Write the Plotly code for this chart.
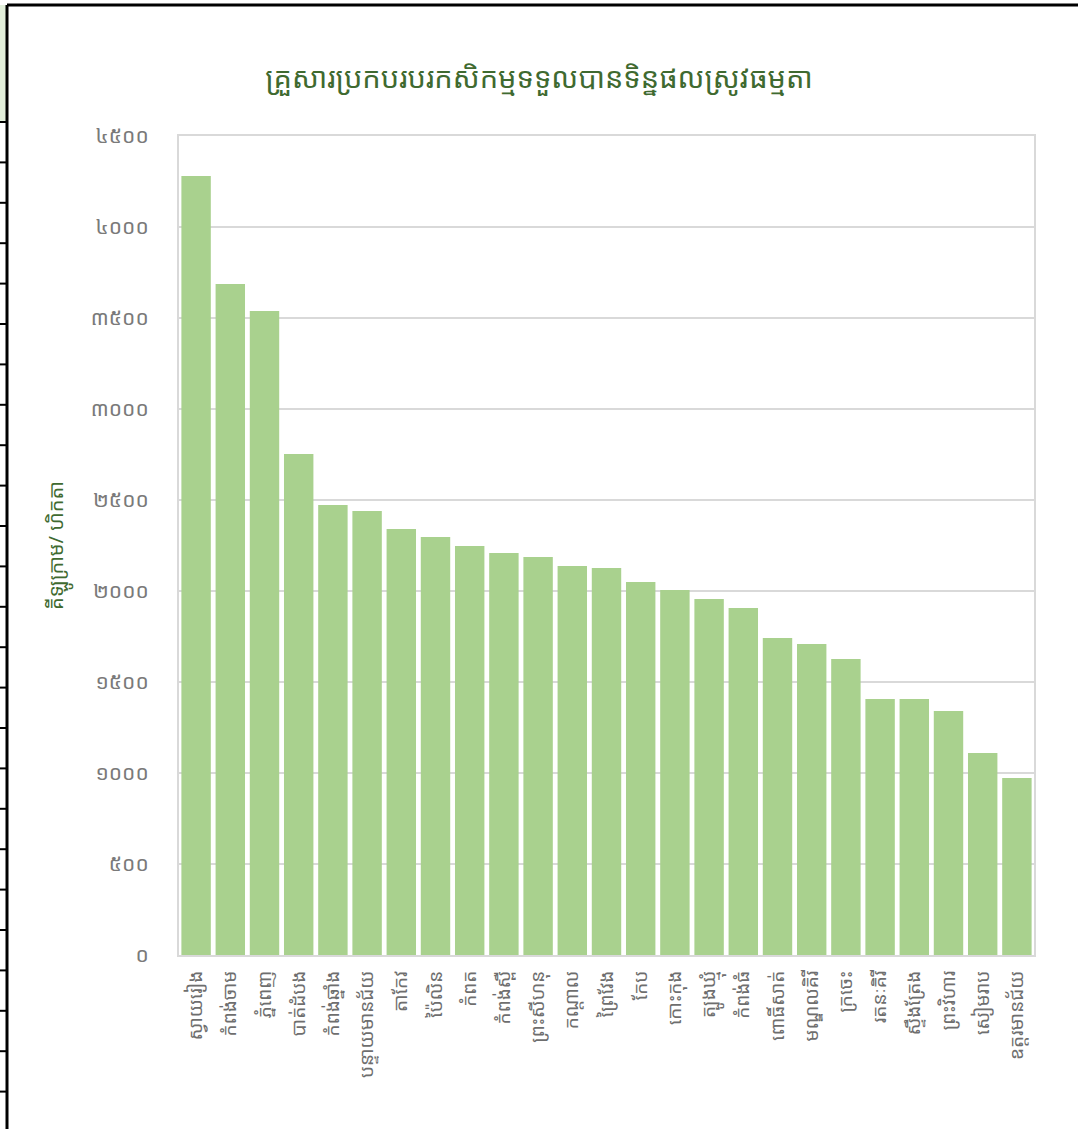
import plotly.graph_objects as go

provinces = ["ស្វាយរៀង", "កំពង់ចាម", "ភ្នំពេញ", "បាត់ដំបង", "កំពង់ឆ្នាំង", "បន្ទាយមានជ័យ",
             "តាកែវ", "ប៉ៃលិន", "កំពត", "កំពង់ស្ពឺ", "ព្រះសីហនុ", "កណ្តាល", "ព្រៃវែង",
             "កែប", "កោះកុង", "ត្បូងឃ្មុំ", "កំពង់ធំ", "ពោធិ៍សាត់", "មណ្ឌលគិរី", "ក្រចេះ",
             "រតនៈគិរី", "ស្ទឹងត្រែង", "ព្រះវិហារ", "សៀមរាប", "ឧត្តរមានជ័យ"]
yields = [4280, 3687, 3538, 2753, 2473, 2440, 2341, 2297, 2247, 2209, 2187, 2137, 2126,
          2049, 2005, 1956, 1907, 1742, 1709, 1626, 1407, 1407, 1341, 1110, 973]
tick_values = [0, 500, 1000, 1500, 2000, 2500, 3000, 3500, 4000, 4500]
tick_labels = ["០", "៥០០", "១០០០", "១៥០០", "២០០០", "២៥០០", "៣០០០", "៣៥០០", "៤០០០", "៤៥០០"]

title_text = "គ្រួសារប្រកបរបរកសិកម្មទទួលបានទិន្នផលស្រូវធម្មតា"
y_title = "គីឡូក្រាម/ ហិកតា"

W, H = 1078, 1129
L, R, T, B = 179, 44, 136, 174
KH = "Khmer OS, Noto Sans Khmer, Noto Serif Khmer, Khmer OS System, Noto Sans, sans-serif"


def px(x):
    return (x - L) / (W - L - R)


def py(y):
    return (H - B - y) / (H - T - B)


fig = go.Figure(go.Bar(
    x=provinces, y=yields,
    marker=dict(color="#A9D18E", line=dict(width=0)),
))

shapes = [
    dict(type="rect", xref="paper", yref="paper", x0=px(0), x1=px(7), y0=py(122), y1=py(5),
         fillcolor="#E2EFDA", line=dict(width=0), layer="below"),
    dict(type="line", xref="paper", yref="paper", x0=px(7), x1=px(W), y0=py(5), y1=py(5),
         line=dict(color="black", width=3)),
    dict(type="line", xref="paper", yref="paper", x0=px(7), x1=px(7), y0=py(5), y1=py(H),
         line=dict(color="black", width=3)),
]
k = 0
while 122 + k * 40.4 < H:
    yy = 122 + k * 40.4
    shapes.append(dict(type="line", xref="paper", yref="paper", x0=px(0), x1=px(7), y0=py(yy), y1=py(yy),
                       line=dict(color="black", width=2)))
    k += 1

fig.update_layout(
    width=W, height=H,
    margin=dict(l=L, r=R, t=T, b=B),
    paper_bgcolor="white", plot_bgcolor="white",
    font=dict(family=KH, color="#595959"),
    bargap=0.14,
    showlegend=False,
    title=dict(text=title_text, x=0.5, xanchor="center", y=1 - 78 / H, yanchor="middle",
               font=dict(size=29, color="#3F6A30", family=KH)),
    xaxis=dict(tickangle=-90, tickfont=dict(size=19, color="#6E6E6E"), showline=True,
               linecolor="#D9D9D9", linewidth=2, mirror=True, ticks="", automargin=False,
               ticklabelstandoff=6),
    yaxis=dict(range=[0, 4500], tickvals=tick_values, ticktext=tick_labels,
               tickfont=dict(size=21, color="#7A7A7A"), showgrid=True, gridcolor="#D9D9D9",
               gridwidth=1.5, showline=True, linecolor="#D9D9D9", linewidth=2, mirror=True,
               zeroline=False, ticks="", ticklen=0, automargin=False, ticklabelstandoff=24,
               title=dict(text=y_title, font=dict(size=20, color="#3F6A30"), standoff=22)),
    shapes=shapes,
)

fig.write_html("out.html", config={"displayModeBar": False},
               post_script="document.body.style.margin='0px';document.body.style.overflow='hidden';")
